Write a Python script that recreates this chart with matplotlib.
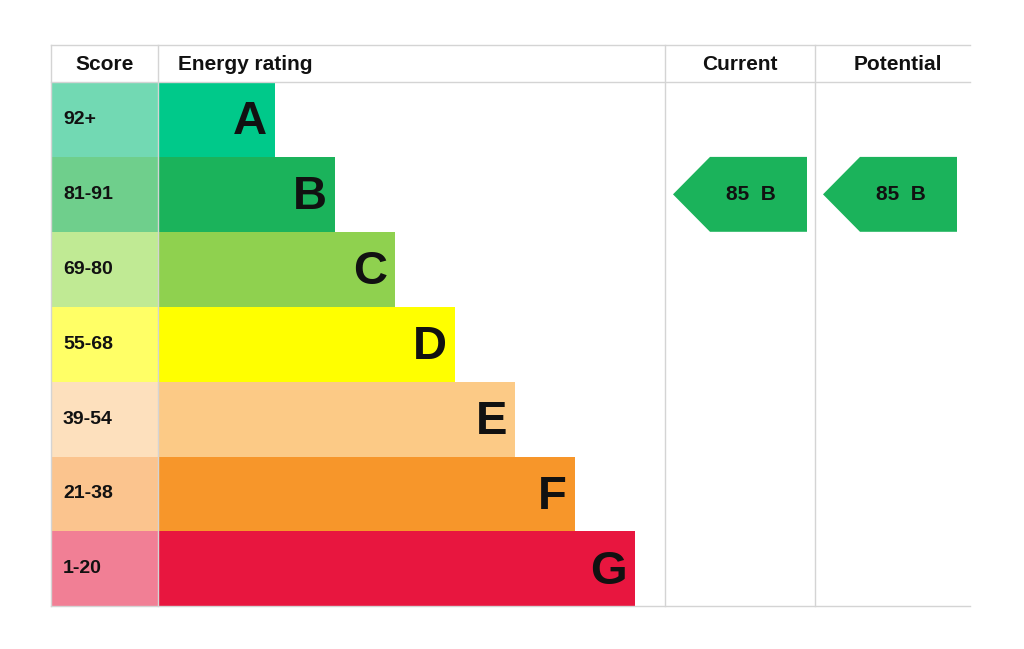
import matplotlib

matplotlib.use("Agg")
import matplotlib.pyplot as plt
from matplotlib.patches import Rectangle, Polygon

bands = ["A", "B", "C", "D", "E", "F", "G"]
ranges = ["92+", "81-91", "69-80", "55-68", "39-54", "21-38", "1-20"]
bar_colors = ["#00c98a", "#1bb35b", "#8fd14f", "#ffff00", "#fcca86", "#f7962a", "#e8163f"]
score_colors = ["#72d9b3", "#6fcf8c", "#c0ea94", "#ffff66", "#fde0bd", "#fbc48e", "#f17f95"]
current_score, current_band = 85, "B"
potential_score, potential_band = 85, "B"

W, H = 1024, 649
fig = plt.figure(figsize=(W / 100, H / 100), dpi=100)
ax = fig.add_axes([0, 0, 1, 1])
ax.set_xlim(0, W)
ax.set_ylim(H, 0)
ax.axis("off")

left, score_r, cur_l, pot_l, right = 51, 158, 665, 815, 970
top, head_b, row_h = 45, 82, 74.9
bold = dict(fontweight="bold", family="Liberation Sans", color="#111111")

# header
grid = "#d4d4d4"
ax.plot([left, right], [top, top], color=grid, lw=1)
ax.plot([left, right], [head_b, head_b], color=grid, lw=1)
for x in (left, score_r, cur_l, pot_l):
    ax.plot([x, x], [top, head_b + row_h * 7], color=grid, lw=1)
ax.plot([left, right], [head_b + row_h * 7] * 2, color=grid, lw=1)
ax.text((left + score_r) / 2, 65, "Score", ha="center", va="center", fontsize=15, **bold)
ax.text(178, 65, "Energy rating", ha="left", va="center", fontsize=15, **bold)
ax.text((cur_l + pot_l) / 2, 65, "Current", ha="center", va="center", fontsize=15, **bold)
ax.text((pot_l + right) / 2 + 5, 65, "Potential", ha="center", va="center", fontsize=15, **bold)

for i, (b, r) in enumerate(zip(bands, ranges)):
    y0 = head_b + i * row_h
    ax.add_patch(Rectangle((left, y0), score_r - left, row_h, color=score_colors[i], lw=0))
    ax.text(63, y0 + row_h / 2, r, ha="left", va="center", fontsize=14, **bold)
    x1 = 275 + 60 * i
    ax.add_patch(Rectangle((score_r, y0), x1 - score_r, row_h, color=bar_colors[i], lw=0))
    ax.text(x1 - 8, y0 + row_h / 2 + 3, b, ha="right", va="center", fontsize=34, **bold)


def band_of(score):
    lows = [92, 81, 69, 55, 39, 21, 1]
    return next(i for i, lo in enumerate(lows) if score >= lo)


for score, band, tip in ((current_score, current_band, 673), (potential_score, potential_band, 823)):
    i = band_of(score)
    y0 = head_b + i * row_h
    y1 = y0 + row_h
    pts = [(tip, (y0 + y1) / 2), (tip + 37, y0), (tip + 134, y0), (tip + 134, y1), (tip + 37, y1)]
    ax.add_patch(Polygon(pts, closed=True, color=bar_colors[i], lw=0))
    ax.text(tip + 78, (y0 + y1) / 2, f"{score}  {band}", ha="center", va="center", fontsize=15, **bold)

fig.savefig("out.png", dpi=100)
